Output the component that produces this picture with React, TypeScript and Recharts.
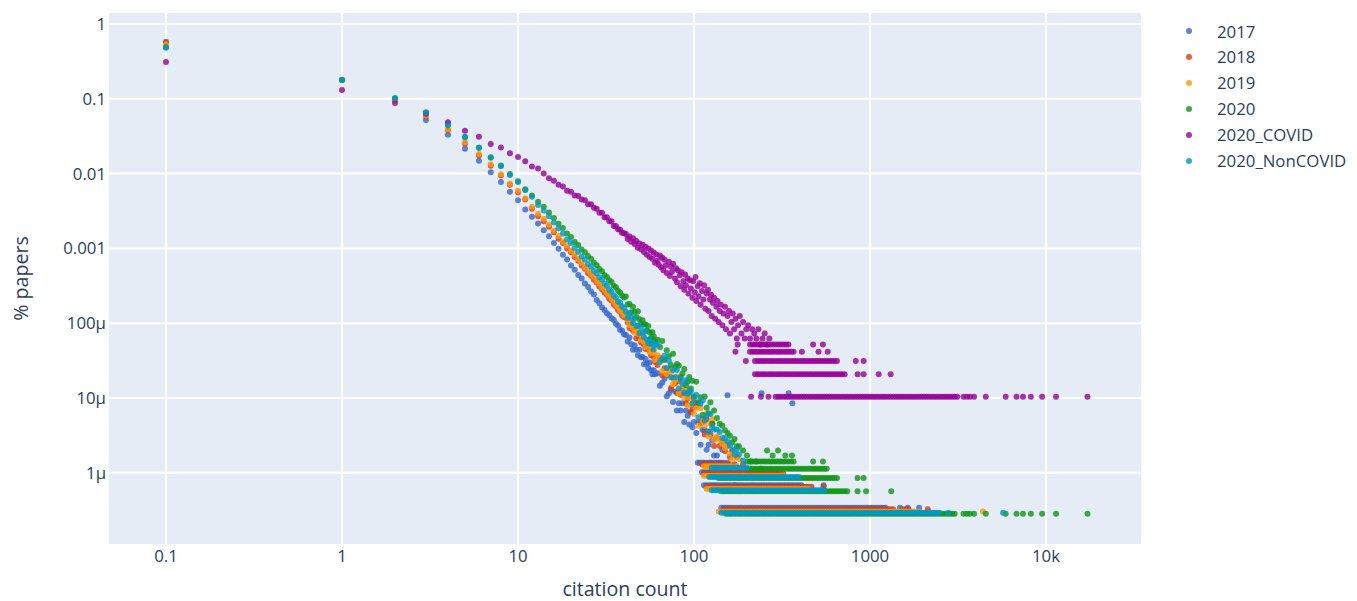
import { ScatterChart, Scatter, XAxis, YAxis, CartesianGrid } from "recharts";

// citation counts (0 citations are drawn at 0.1)
const headCounts = [
  0.1, 1, 2, 3, 4, 5, 6, 7, 8, 9, 10, 11, 12, 13, 14, 15, 16, 17, 18, 19, 20,
  21, 22, 23, 24, 25, 26, 27, 28, 29, 30, 31, 32, 33, 34, 35, 36, 37, 38, 39, 40,
];

const head2017 = [
  0.58, 0.18, 0.1, 0.052, 0.033, 0.0215, 0.0149, 0.0104, 0.0077, 0.0057, 0.0044, 0.0033, 0.00265, 0.00215, 0.00175,
  1.45e-3, 1.18e-3, 9.9e-4, 8.2e-4, 7.1e-4, 5.9e-4, 5.2e-4, 4.4e-4, 3.95e-4, 3.4e-4, 3.05e-4, 2.65e-4, 2.42e-4,
  2.05e-4, 1.85e-4, 1.62e-4, 1.5e-4, 1.36e-4, 1.28e-4, 1.16e-4, 1.1e-4, 9.8e-5, 9.3e-5, 8.2e-5, 7.9e-5, 7.1e-5,
];
const head2018 = [
  0.56, 0.178, 0.097, 0.058, 0.038, 0.025, 0.0175, 0.0127, 0.0094, 0.0071, 0.0056, 0.0045, 0.0034, 0.0027, 0.0023,
  1.95e-3, 1.64e-3, 1.35e-3, 1.18e-3, 1.0e-3, 8.9e-4, 7.7e-4, 6.85e-4, 5.9e-4, 5.35e-4, 4.7e-4, 4.3e-4, 3.8e-4,
  3.5e-4, 3.1e-4, 2.85e-4, 2.55e-4, 2.4e-4, 2.13e-4, 2.0e-4, 1.78e-4, 1.68e-4, 1.5e-4, 1.42e-4, 1.28e-4, 1.21e-4,
];
const head2019 = [
  0.535, 0.178, 0.095, 0.06, 0.039, 0.0262, 0.0183, 0.0133, 0.0098, 0.0074, 0.0059, 0.0047, 0.0036, 0.0029, 0.0025,
  2.09e-3, 1.74e-3, 1.47e-3, 1.24e-3, 1.09e-3, 9.4e-4, 8.35e-4, 7.2e-4, 6.45e-4, 5.65e-4, 5.12e-4, 4.52e-4, 4.17e-4,
  3.7e-4, 3.4e-4, 3.0e-4, 2.79e-4, 2.51e-4, 2.34e-4, 2.1e-4, 1.95e-4, 1.76e-4, 1.65e-4, 1.48e-4, 1.41e-4, 1.27e-4,
];
const head2020 = [
  0.49, 0.178, 0.102, 0.066, 0.045, 0.031, 0.0224, 0.0166, 0.0128, 0.0099, 0.0079, 0.0062, 0.0051, 0.0042, 0.0036,
  3.02e-3, 2.55e-3, 2.13e-3, 1.87e-3, 1.58e-3, 1.42e-3, 1.22e-3, 1.11e-3, 9.7e-4, 8.9e-4, 7.9e-4, 7.3e-4, 6.5e-4,
  5.97e-4, 5.32e-4, 4.95e-4, 4.42e-4, 4.16e-4, 3.74e-4, 3.56e-4, 3.17e-4, 3.02e-4, 2.71e-4, 2.58e-4, 2.33e-4, 2.21e-4,
];
const headCovid = [
  0.31, 0.131, 0.088, 0.063, 0.0485, 0.0375, 0.0312, 0.0249, 0.0224, 0.0187, 0.0167, 0.0146, 0.0124, 0.0117, 0.01,
  0.0087, 0.008, 0.0071, 0.0067, 0.0059, 0.0057, 0.0051, 0.005, 0.0045, 0.0044, 0.0039, 0.0039, 0.0035,
  0.0034, 0.003, 0.003, 0.0026, 0.0026, 0.0023, 0.0023, 0.002, 0.002, 0.0018, 0.00178, 0.00162, 0.0016,
];
const headNonCovid = [
  0.48, 0.178, 0.102, 0.065, 0.044, 0.0305, 0.022, 0.0163, 0.0125, 0.0096, 0.0077, 0.006, 0.0049, 0.0038, 0.0032,
  2.69e-3, 2.22e-3, 1.86e-3, 1.58e-3, 1.32e-3, 1.18e-3, 1.01e-3, 9.0e-4, 7.8e-4, 7.1e-4, 6.2e-4, 5.68e-4, 5.02e-4,
  4.65e-4, 4.12e-4, 3.85e-4, 3.4e-4, 3.17e-4, 2.8e-4, 2.64e-4, 2.35e-4, 2.22e-4, 1.97e-4, 1.88e-4, 1.68e-4, 1.6e-4,
];

// share of a single paper in each set (lowest level of the dots)
const unit2017 = 3.4e-7;
const unit2018 = 3.25e-7;
const unit2019 = 3.05e-7;
const unit2020 = 2.84e-7;
const unitCovid = 1.04e-5;
const unitNonCovid = 2.92e-7;

// 41..130: number of papers at each citation count
const midCounts = [
  41, 42, 43, 44, 45, 46, 47, 48, 49, 50, 51, 52, 53, 54, 55, 56, 57, 58, 59, 60,
  62, 64, 66, 68, 70, 72, 74, 76, 78, 80, 82, 84, 86, 88, 90, 92, 94, 96, 98, 100,
  103, 106, 109, 112, 115, 118, 121, 124, 127, 130,
];
const mid2017 = [
  205, 168, 190, 154, 130, 149, 130, 110, 130, 103, 104, 83, 98, 85, 74, 88, 69, 61, 69, 61,
  63, 43, 47, 53, 31, 34, 38, 26, 36, 20, 25, 20, 25, 14, 20, 17, 13, 19, 12, 14,
  10, 14, 7, 11, 11, 6, 7, 4, 8, 5,
];
const mid2018 = [
  365, 317, 266, 311, 245, 247, 194, 230, 199, 170, 203, 159, 139, 156, 137, 136, 115, 132, 109, 93,
  85, 106, 62, 77, 62, 74, 42, 57, 48, 36, 52, 34, 39, 37, 26, 30, 34, 20, 23, 27,
  24, 26, 14, 16, 10, 16, 11, 10, 14, 7,
];
const mid2019 = [
  425, 362, 308, 365, 283, 245, 272, 237, 237, 197, 222, 184, 155, 180, 160, 135, 162, 130, 133, 106,
  122, 101, 75, 106, 68, 76, 73, 50, 56, 64, 38, 42, 48, 33, 42, 26, 33, 27, 33, 20,
  24, 14, 24, 16, 14, 20, 10, 15, 17, 9,
];
const mid2020 = [
  803, 628, 636, 494, 586, 502, 427, 510, 398, 347, 387, 340, 338, 282, 324, 266, 226, 266, 235, 202,
  212, 169, 203, 114, 153, 128, 97, 138, 90, 100, 96, 67, 75, 86, 52, 58, 67, 47, 60, 37,
  58, 31, 36, 21, 37, 26, 22, 31, 16, 24,
];
const midNonCovid = [
  487, 406, 467, 405, 342, 400, 315, 320, 252, 300, 258, 223, 267, 208, 184, 206, 180, 183, 153, 175,
  179, 104, 111, 126, 86, 108, 65, 81, 65, 81, 46, 62, 53, 40, 59, 39, 43, 42, 29, 34,
  38, 19, 29, 32, 17, 20, 12, 21, 14, 13,
];

// 135..360: papers (0 = no dot)
const extCounts = [135, 140, 145, 150, 155, 160, 165, 170, 175, 180, 190, 200, 210, 225, 240, 260, 280, 300, 330, 360];
const ext2017 = [5, 4, 6, 3, 4, 3, 0, 2, 0, 3, 0, 0, 0, 0, 0, 0, 0, 0, 0, 0];
const ext2018 = [9, 7, 8, 6, 7, 5, 6, 4, 5, 3, 4, 0, 0, 0, 0, 0, 0, 0, 0, 0];
const ext2019 = [10, 9, 8, 7, 8, 6, 5, 6, 4, 5, 3, 0, 0, 0, 0, 0, 0, 0, 0, 0];
const ext2020 = [19, 16, 15, 13, 12, 11, 9, 10, 8, 8, 7, 6, 5, 5, 4, 7, 6, 7, 6, 6];
const extNonCovid = [13, 12, 10, 10, 9, 8, 7, 6, 7, 6, 5, 4, 3, 0, 0, 0, 0, 0, 0, 0];

// COVID papers: [citation count, papers]
const midCovid = [
  [41, 150], [42, 128], [43, 139], [44, 118], [45, 131], [46, 110], [47, 121], [48, 98], [49, 112], [50, 94],
  [51, 108], [52, 86], [53, 101], [54, 79], [55, 96], [56, 74], [57, 90], [58, 70], [59, 85], [60, 62],
  [61, 80], [62, 66], [63, 58], [64, 77], [65, 54], [66, 72], [67, 49], [68, 68], [69, 57], [70, 45],
  [72, 64], [73, 41], [74, 55], [75, 47], [76, 60], [78, 38], [79, 52], [80, 34], [81, 49], [83, 42],
  [84, 30], [85, 46], [87, 35], [88, 27], [89, 43], [90, 31], [92, 38], [93, 24], [95, 36], [96, 28],
  [98, 21], [99, 35], [101, 25], [102, 40], [103, 19], [105, 30], [106, 22], [108, 33], [109, 17], [111, 26],
  [113, 20], [114, 31], [116, 15], [118, 24], [120, 27], [121, 14], [123, 20], [125, 23], [126, 12], [128, 18],
  [130, 21], [132, 11], [134, 16], [136, 19], [138, 10], [140, 14], [142, 17], [145, 9], [147, 13], [150, 16],
  [152, 8], [155, 12], [158, 14], [160, 7], [163, 10], [166, 13], [169, 8], [172, 11], [175, 6], [178, 9],
  [182, 12], [186, 7], [190, 10], [194, 6], [198, 8], [203, 9], [208, 6], [214, 8], [220, 7], [226, 6],
  [232, 8], [238, 5], [245, 6], [252, 7], [260, 5], [268, 6],
];

// citation counts where the flat rows of 1, 2, 3... papers sit
const rowCounts = [
  102, 105, 108, 111, 114, 118, 122, 126, 130, 134, 138, 143, 148, 153, 158, 163, 169, 175, 181, 187,
  194, 201, 208, 215, 222, 230, 238, 246, 254, 263, 272, 281, 291, 301, 311, 322, 333, 344, 356, 368,
  381, 394, 407, 421, 435, 450, 465, 481, 497, 514, 531, 549, 568, 587, 607, 628, 649, 671, 694, 718,
  742, 767, 793, 820, 848, 877, 907, 938, 970, 1003, 1037, 1072, 1108, 1146, 1185, 1225, 1267, 1310,
  1355, 1401, 1449, 1498, 1549, 1602, 1657, 1713, 1771, 1831, 1893, 1958, 2025, 2094, 2165, 2239,
  2315, 2394, 2476, 2560, 2647, 2737, 2830, 2927, 3027, 3130,
];
// [papers, from count, to count]
const rows2017 = [[1, 140, 1250], [2, 114, 420], [3, 110, 300], [4, 105, 150]];
const rows2018 = [[1, 145, 1400], [2, 118, 480], [3, 112, 330], [4, 110, 160]];
const rows2019 = [[1, 137, 1800], [2, 117, 450], [3, 114, 330], [4, 112, 165]];
const rows2020 = [[1, 150, 3050], [2, 140, 750], [3, 137, 650], [4, 200, 580], [5, 200, 370]];
const rowsCovid = [[1, 285, 3150], [2, 218, 730], [3, 218, 650], [4, 202, 370], [5, 205, 355]];
const rowsNonCovid = [[1, 140, 2500], [2, 125, 560], [3, 120, 400], [4, 125, 200]];
// single dots: [citation count, papers]
const extra2017 = [[1480, 1], [1640, 1], [1900, 1], [545, 2], [155, 32], [242, 34], [345, 34], [362, 25]];
const extra2018 = [[1540, 1], [1600, 1], [1650, 1], [2130, 1], [545, 2]];
const extra2019 = [[1900, 1], [4380, 1]];
const extra2020 = [
  [850, 2], [950, 2], [1320, 2], [850, 3], [920, 3], [475, 5], [540, 5],
  [3400, 1], [3550, 1], [3700, 1], [3900, 1], [4550, 1], [5900, 1], [6800, 1], [7400, 1], [8200, 1],
  [9500, 1], [11400, 1], [17200, 1],
];
const extraCovid = [
  [211, 1], [240, 1], [265, 1], [3400, 1], [3550, 1], [3700, 1], [3900, 1], [4550, 1], [5900, 1], [6800, 1],
  [7400, 1], [8200, 1], [9500, 1], [11400, 1], [17200, 1], [850, 2], [920, 2], [1120, 2], [1310, 2],
  [197, 3], [830, 3], [920, 3], [172, 4], [410, 4], [510, 4], [575, 4], [177, 5], [475, 5], [540, 5],
];
const extraNonCovid = [[2780, 1], [5700, 1]];

const xTicks = [0.1, 1, 10, 100, 1000, 10000];
const xTickLabels = ["0.1", "1", "10", "100", "1000", "10k"];
const yTicks = [1, 0.1, 0.01, 0.001, 0.0001, 0.00001, 0.000001];
const yTickLabels = ["1", "0.1", "0.01", "0.001", "100µ", "10µ", "1µ"];

type Pt = { x: number; y: number };

const build = (
  head: number[],
  mid: number[][],
  ext: number[],
  rows: number[][],
  extras: number[][],
  unit: number
) => {
  const pts: Pt[] = [];
  headCounts.forEach((c, i) => pts.push({ x: c, y: head[i] }));
  mid.forEach(([c, n]) => pts.push({ x: c, y: n * unit }));
  extCounts.forEach((c, i) => {
    if (ext[i] > 0) pts.push({ x: c, y: ext[i] * unit });
  });
  rows.forEach(([k, from, to]) =>
    rowCounts.filter((c) => c >= from && c <= to).forEach((c) => pts.push({ x: c, y: k * unit }))
  );
  extras.forEach(([c, k]) => pts.push({ x: c, y: k * unit }));
  return pts;
};

const zip = (vals: number[]) => midCounts.map((c, i) => [c, vals[i]]);
const none = extCounts.map(() => 0);

const series = [
  { name: "2017", color: "#3366CC", data: build(head2017, zip(mid2017), ext2017, rows2017, extra2017, unit2017) },
  { name: "2018", color: "#DC3912", data: build(head2018, zip(mid2018), ext2018, rows2018, extra2018, unit2018) },
  { name: "2019", color: "#FF9900", data: build(head2019, zip(mid2019), ext2019, rows2019, extra2019, unit2019) },
  { name: "2020", color: "#109618", data: build(head2020, zip(mid2020), ext2020, rows2020, extra2020, unit2020) },
  { name: "2020_COVID", color: "#990099", data: build(headCovid, midCovid, none, rowsCovid, extraCovid, unitCovid) },
  {
    name: "2020_NonCOVID",
    color: "#0099C6",
    data: build(headNonCovid, zip(midNonCovid), extNonCovid, rowsNonCovid, extraNonCovid, unitNonCovid),
  },
];

const font = '"Open Sans", sans-serif';
const textColor = "#2a3f5f";

const Dot = (color: string) => (props: any) =>
  <circle cx={props.cx} cy={props.cy} r={3} fill={color} fillOpacity={0.8} />;

const App = () => {
  return (
    <div style={{ position: "absolute", left: 0, top: 0, width: 1357, height: 601, background: "#fff", fontFamily: font }}>
      <ScatterChart width={1357} height={601} margin={{ top: 12, right: 215, bottom: 0, left: 0 }}>
        <CartesianGrid fill="#E5ECF6" fillOpacity={1} stroke="#ffffff" strokeWidth={2} />
        <XAxis
          type="number"
          dataKey="x"
          scale="log"
          domain={[0.04683, 35100]}
          allowDataOverflow
          ticks={xTicks}
          tickFormatter={(v: number) => xTickLabels[xTicks.indexOf(v)]}
          height={56}
          axisLine={false}
          tickLine={false}
          tickSize={0}
          tickMargin={5}
          tick={{ fill: textColor, fontSize: 16.8, fontFamily: font }}
          label={{ value: "citation count", position: "insideBottom", offset: 5, fill: textColor, fontSize: 19.6, fontFamily: font }}
        />
        <YAxis
          type="number"
          dataKey="y"
          scale="log"
          domain={[1.0835e-7, 1.447]}
          allowDataOverflow
          ticks={yTicks}
          tickFormatter={(v: number) => yTickLabels[yTicks.indexOf(v)]}
          width={108}
          axisLine={false}
          tickLine={false}
          tickSize={0}
          tickMargin={2}
          tick={{ fill: textColor, fontSize: 16.8, fontFamily: font }}
          label={{
            value: "% papers",
            angle: -90,
            position: "insideLeft",
            offset: 21,
            fill: textColor,
            fontSize: 19.6,
            fontFamily: font,
            style: { textAnchor: "middle" },
          }}
        />
        {series.map((s) => (
          <Scatter key={s.name} name={s.name} data={s.data} isAnimationActive={false} shape={Dot(s.color)} />
        ))}
      </ScatterChart>
      {series.map((s, i) => (
        <div
          key={s.name}
          style={{
            position: "absolute",
            left: 1183,
            top: 18 + i * 25.9,
            height: 26,
            display: "flex",
            alignItems: "center",
            fontSize: 16.8,
            color: textColor,
            whiteSpace: "nowrap",
          }}
        >
          <svg width={12} height={12} style={{ marginRight: 22 }}>
            <circle cx={6} cy={6} r={3} fill={s.color} fillOpacity={0.8} />
          </svg>
          <span>{s.name}</span>
        </div>
      ))}
    </div>
  );
};

export default App;
